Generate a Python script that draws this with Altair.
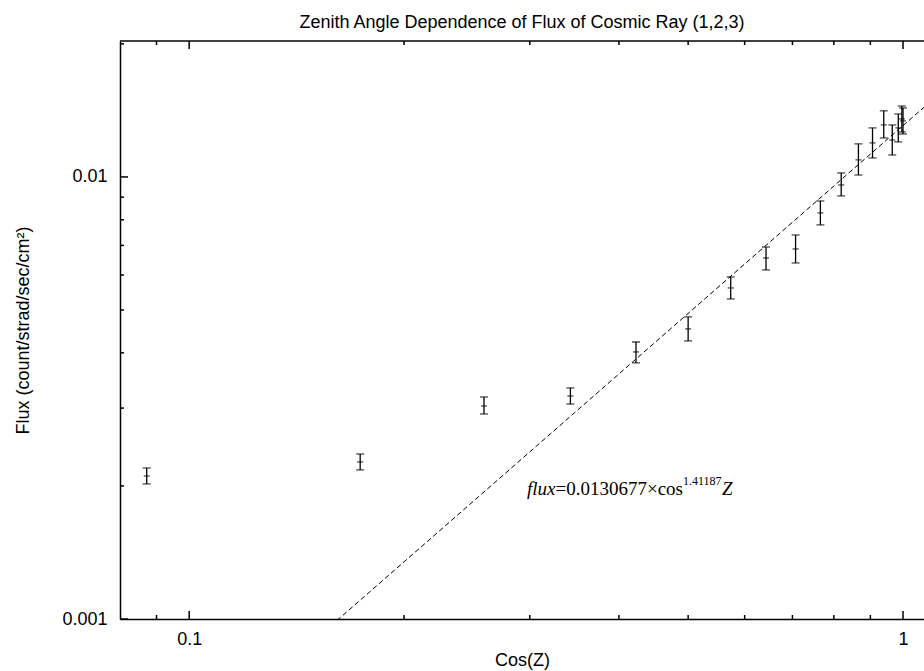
import altair as alt
import pandas as pd

# ---- data ----
cos_z = [0.0872, 0.1736, 0.2588, 0.3420, 0.4226, 0.5000, 0.5736, 0.6428, 0.7071,
         0.7660, 0.8192, 0.8660, 0.9063, 0.9397, 0.9659, 0.9848, 0.9962, 1.0000]
flux = [0.002106, 0.002266, 0.003033, 0.003195, 0.004019, 0.004531, 0.005609, 0.006557, 0.006872,
        0.008290, 0.009592, 0.01093, 0.01194, 0.01311, 0.01212, 0.01291, 0.01353, 0.01339]
flux_lo = [0.002021, 0.002174, 0.002909, 0.003064, 0.003795, 0.004256, 0.005297, 0.006160, 0.006388,
           0.007789, 0.009058, 0.01010, 0.01104, 0.01225, 0.01121, 0.01200, 0.01264, 0.01251]
flux_hi = [0.002196, 0.002362, 0.003179, 0.003332, 0.004233, 0.004824, 0.005939, 0.006942, 0.007391,
           0.008824, 0.01021, 0.01188, 0.01291, 0.01411, 0.01311, 0.01388, 0.01447, 0.01432]

fit_a = 0.0130677
fit_b = 1.41187

x_domain = [0.08, 1.07]
y_domain = [0.001, 0.0203]

x_major = [0.1, 1.0]
x_minor = [0.09, 0.2, 0.3, 0.4, 0.5, 0.6, 0.7, 0.8, 0.9]
y_major = [0.001, 0.01]
y_minor = [0.002, 0.003, 0.004, 0.005, 0.006, 0.007, 0.008, 0.009, 0.02]

title_text = "Zenith Angle Dependence of Flux of Cosmic Ray (1,2,3)"
x_title = "Cos(Z)"
y_title = "Flux (count/strad/sec/cm²)"

W, H = 804, 578
SANS = "Liberation Sans"
SERIF = "Liberation Serif"

df = pd.DataFrame({"cos": cos_z, "flux": flux, "lo": flux_lo, "hi": flux_hi})
fit_df = pd.DataFrame({"cos": x_domain,
                       "flux": [fit_a * v ** fit_b for v in x_domain]})

xscale = alt.Scale(type="log", domain=x_domain, nice=False)
yscale = alt.Scale(type="log", domain=y_domain, nice=False)

xaxis = alt.Axis(values=x_major, format="~g", grid=False, ticks=False, tickSize=0,
                 domain=True, domainColor="black", domainWidth=1.5,
                 labelFont=SANS, labelFontSize=18, labelColor="black", labelPadding=11,
                 labelFlush=False, labelOverlap=False,
                 title=x_title, titleFont=SANS, titleFontSize=18, titleFontWeight="normal",
                 titleColor="black", titleY=46, titleBaseline="alphabetic")
yaxis = alt.Axis(values=y_major, format="~g", grid=False, ticks=False, tickSize=0,
                 domain=True, domainColor="black", domainWidth=1.5,
                 labelFont=SANS, labelFontSize=18, labelColor="black", labelPadding=13,
                 labelFlush=False, labelOverlap=False,
                 title=y_title, titleFont=SANS, titleFontSize=18, titleFontWeight="normal",
                 titleColor="black", titleAngle=-90, titleX=-92, titleY=H / 2,
                 titleAlign="center", titleBaseline="alphabetic")


def X(field="cos"):
    return alt.X(f"{field}:Q", scale=xscale, axis=xaxis)


def Y(field="flux"):
    return alt.Y(f"{field}:Q", scale=yscale, axis=yaxis)


base = alt.Chart(df)

bars = base.mark_rule(color="black", strokeWidth=1.3).encode(
    x=X(), y=Y("lo"), y2="hi:Q")
cap_lo = base.mark_tick(orient="horizontal", size=8, thickness=1.3, color="black").encode(
    x=X(), y=Y("lo"))
cap_hi = base.mark_tick(orient="horizontal", size=8, thickness=1.3, color="black").encode(
    x=X(), y=Y("hi"))
center = base.mark_tick(orient="horizontal", size=6, thickness=1.3, color="black").encode(
    x=X(), y=Y("flux"))

fit = alt.Chart(fit_df).mark_line(color="black", strokeWidth=1, strokeDash=[5, 3],
                                  clip=True).encode(x=X(), y=Y())


def xticks(vals, length, top):
    d = pd.DataFrame({"cos": vals})
    if top:
        yy, yy2 = 0, length
    else:
        yy, yy2 = H, H - length
    return alt.Chart(d).mark_rule(color="black", strokeWidth=1.5).encode(
        x=X(), y=alt.value(yy), y2=alt.value(yy2))


def yticks(vals, length):
    d = pd.DataFrame({"flux": vals})
    return alt.Chart(d).mark_rule(color="black", strokeWidth=1.5).encode(
        y=Y(), x=alt.value(0), x2=alt.value(length))


top_frame = alt.Chart(pd.DataFrame({"a": [0]})).mark_rule(color="black", strokeWidth=1.5).encode(
    x=alt.value(0), x2=alt.value(W), y=alt.value(0))


def label(text, x, y, size, italic=False, font=SERIF, align="left"):
    return alt.Chart(pd.DataFrame({"t": [text]})).mark_text(
        font=font, fontSize=size, fontStyle="italic" if italic else "normal",
        align=align, baseline="alphabetic", color="black").encode(
        text="t:N", x=alt.value(x), y=alt.value(y))


ann = [
    label("flux", 407, 454, 19, italic=True),
    label("=0.0130677×cos", 435.5, 454, 19),
    label("1.41187", 563, 444, 12),
    label("Z", 602, 454, 19, italic=True),
]

title = label(title_text, W / 2, -13, 18, font=SANS, align="center")

chart = alt.layer(
    fit, bars, cap_lo, cap_hi, center,
    xticks(x_major, 8, False), xticks(x_minor, 4, False),
    xticks(x_major, 8, True), xticks(x_minor, 4, True),
    yticks(y_major, 8), yticks(y_minor, 4),
    top_frame, title, *ann,
).properties(
    width=W, height=H,
    autosize=alt.AutoSizeParams(type="none"),
    padding={"left": 120, "top": 41, "right": 0, "bottom": 52},
    background="white",
).configure_view(stroke=None)

chart.save("out.html", embed_options={"renderer": "svg", "actions": False})
